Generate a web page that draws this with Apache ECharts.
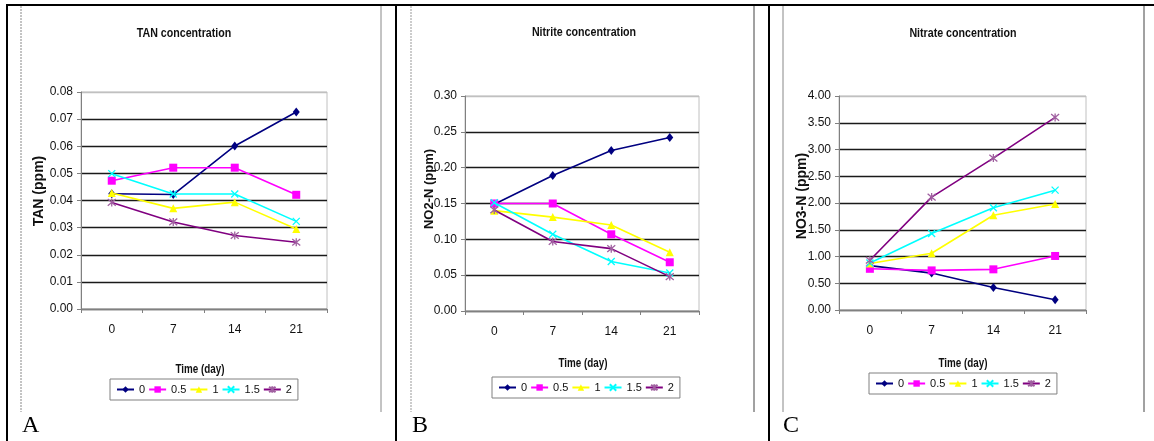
<!DOCTYPE html>
<html><head><meta charset="utf-8">
<script src="https://cdn.jsdelivr.net/npm/echarts@6/dist/echarts.min.js"></script>
<style>html,body{margin:0;padding:0;background:#fff}#c{width:1154px;height:441px}</style>
</head><body><div id="c"></div>
<script>
// ---------- data ----------
const days = ['0', '7', '14', '21'];
const doseNames = ['0', '0.5', '1', '1.5', '2'];

// Panel A: TAN (ppm)
const tan_0   = [0.0425, 0.0422, 0.0601, 0.0726];
const tan_05  = [0.0473, 0.0521, 0.0521, 0.0421];
const tan_1   = [0.0428, 0.0371, 0.0394, 0.0295];
const tan_15  = [0.0499, 0.0424, 0.0424, 0.0323];
const tan_2   = [0.0393, 0.0321, 0.0271, 0.0246];
const tanTicks = [0, 0.01, 0.02, 0.03, 0.04, 0.05, 0.06, 0.07, 0.08];

// Panel B: NO2-N (ppm)
const no2_0   = [0.149, 0.189, 0.224, 0.242];
const no2_05  = [0.150, 0.150, 0.107, 0.068];
const no2_1   = [0.140, 0.131, 0.120, 0.082];
const no2_15  = [0.151, 0.107, 0.069, 0.053];
const no2_2   = [0.141, 0.097, 0.087, 0.048];
const no2Ticks = [0, 0.05, 0.10, 0.15, 0.20, 0.25, 0.30];

// Panel C: NO3-N (ppm)
const no3_0   = [0.83, 0.69, 0.42, 0.19];
const no3_05  = [0.77, 0.74, 0.76, 1.01];
const no3_1   = [0.87, 1.06, 1.77, 1.98];
const no3_15  = [0.88, 1.43, 1.91, 2.24];
const no3_2   = [0.93, 2.11, 2.84, 3.60];
const no3Ticks = [0, 0.5, 1.0, 1.5, 2.0, 2.5, 3.0, 3.5, 4.0];

const titlesText = ['TAN concentration', 'Nitrite concentration', 'Nitrate concentration'];
const yNames = ['TAN (ppm)', 'NO2-N (ppm)', 'NO3-N (ppm)'];
const xName = 'Time (day)';
const panelLetters = ['A', 'B', 'C'];

// ---------- style ----------
const SANS = "'Liberation Sans',Arial,sans-serif";
const SERIF = "'Liberation Serif','Times New Roman',serif";
const colors = ['#000080', '#FF00FF', '#FFFF00', '#00FFFF', '#800080'];
const markerColors = ['#000080', '#FF00FF', '#FFFF00', '#00FFFF', '#A060A0'];
const symbols = [
  'diamond', 'rect', 'triangle',
  'path://M0,0L10,10M10,0L0,10',
  'path://M0,0L10,10M10,0L0,10M5,-1L5,11'
];
const symbolSizes = [[7, 9], 8, 8, 7, 8];

const panels = [
  { data: [tan_0, tan_05, tan_1, tan_15, tan_2], ticks: tanTicks,
    grid: { left: 81, top: 92, width: 246, height: 217 },
    titleX: 184, titleY: 33, yNameX: 39, yNameY: 191, yNameSize: 14,
    xNameX: 200, xNameY: 370, legend: { left: 110, top: 379 }, letterX: 22 },
  { data: [no2_0, no2_05, no2_1, no2_15, no2_2], ticks: no2Ticks,
    grid: { left: 465, top: 96, width: 234, height: 215 },
    titleX: 584, titleY: 32, yNameX: 429, yNameY: 189, yNameSize: 13,
    xNameX: 583, xNameY: 364, legend: { left: 492, top: 377 }, letterX: 412 },
  { data: [no3_0, no3_05, no3_1, no3_15, no3_2], ticks: no3Ticks,
    grid: { left: 839, top: 96, width: 247, height: 214 },
    titleX: 963, titleY: 33, yNameX: 802, yNameY: 196, yNameSize: 14,
    xNameX: 963, xNameY: 364, legend: { left: 869, top: 373 }, letterX: 783 }
];

const option = {
  animation: false,
  backgroundColor: '#fff',
  grid: [], xAxis: [], yAxis: [], series: [], legend: [], graphic: []
};

panels.forEach((p, pi) => {
  option.grid.push(Object.assign({ show: true, borderColor: '#c0c0c0', borderWidth: 1, backgroundColor: '#fff' }, p.grid));
  option.xAxis.push({
    type: 'category', gridIndex: pi, data: days, boundaryGap: true,
    axisLine: { lineStyle: { color: '#808080', width: 1 } },
    axisTick: { show: true, length: 4, lineStyle: { color: '#808080' } },
    axisLabel: { margin: 15, color: '#111', fontFamily: SANS, fontSize: 12 },
    splitLine: { show: false }
  });
  const t = p.ticks;
  const step = t[1] - t[0];
  const splitColors = t.map((v, i) => i === t.length - 1 ? '#c0c0c0' : '#1a1a1a');
  option.yAxis.push({
    type: 'value', gridIndex: pi, min: t[0], max: t[t.length - 1], interval: step,
    axisLine: { show: true, lineStyle: { color: '#808080', width: 1 } },
    axisTick: { show: true, length: 4, lineStyle: { color: '#808080' } },
    axisLabel: { margin: 8, color: '#111', fontFamily: SANS, fontSize: 12,
      formatter: v => v.toFixed(2) },
    splitLine: { show: true, lineStyle: { color: splitColors, width: 1.4 } }
  });
  p.data.forEach((vals, si) => {
    option.series.push({
      name: doseNames[si], type: 'line', xAxisIndex: pi, yAxisIndex: pi,
      data: vals, symbol: symbols[si], symbolSize: symbolSizes[si],
      lineStyle: { color: colors[si], width: 1.6 },
      itemStyle: { color: markerColors[si], borderColor: markerColors[si], borderWidth: si >= 3 ? 1.3 : 0 },
      z: 3 + si
    });
  });
  option.legend.push(Object.assign({
    data: doseNames, orient: 'horizontal', itemWidth: 17, itemHeight: 8, itemGap: 3,
    padding: [5, 6, 5, 6], borderColor: '#808080', borderWidth: 1, backgroundColor: '#fff',
    selectedMode: false,
    textStyle: { fontFamily: SANS, fontSize: 11, color: '#111' }
  }, p.legend));
  // titles and axis names
  option.graphic.push({
    type: 'text', x: p.titleX, y: p.titleY, scaleX: 0.82,
    style: { text: titlesText[pi], fill: '#111', font: 'bold 13px ' + SANS, textAlign: 'center', textVerticalAlign: 'middle' }
  });
  option.graphic.push({
    type: 'text', x: p.yNameX, y: p.yNameY, rotation: Math.PI / 2,
    style: { text: yNames[pi], fill: '#111', font: 'bold ' + p.yNameSize + 'px ' + SANS, textAlign: 'center', textVerticalAlign: 'middle' }
  });
  option.graphic.push({
    type: 'text', x: p.xNameX, y: p.xNameY, scaleX: 0.82,
    style: { text: xName, fill: '#111', font: 'bold 12px ' + SANS, textAlign: 'center', textVerticalAlign: 'middle' }
  });
  option.graphic.push({
    type: 'text', x: p.letterX, y: 426,
    style: { text: panelLetters[pi], fill: '#000', font: '24px ' + SERIF, textAlign: 'left', textVerticalAlign: 'middle' }
  });
});

// table frame and chart picture edges
const lines = [
  { x1: 6, y1: 5, x2: 1154, y2: 5, c: '#000', w: 2 },
  { x1: 7, y1: 4, x2: 7, y2: 441, c: '#000', w: 2 },
  { x1: 396, y1: 4, x2: 396, y2: 441, c: '#000', w: 2 },
  { x1: 769, y1: 4, x2: 769, y2: 441, c: '#000', w: 2 },
  { x1: 21, y1: 6, x2: 21, y2: 412, c: '#888', w: 1, d: [2, 1] },
  { x1: 381, y1: 6, x2: 381, y2: 412, c: '#888', w: 1 },
  { x1: 411, y1: 6, x2: 411, y2: 412, c: '#999', w: 1, d: [2, 1] },
  { x1: 754, y1: 6, x2: 754, y2: 412, c: '#444', w: 1 },
  { x1: 783, y1: 6, x2: 783, y2: 412, c: '#888', w: 1 },
  { x1: 1144, y1: 6, x2: 1144, y2: 412, c: '#444', w: 1 }
];
lines.forEach(l => option.graphic.push({
  type: 'line', silent: true, z: 100,
  shape: { x1: l.x1, y1: l.y1, x2: l.x2, y2: l.y2 },
  style: { stroke: l.c, lineWidth: l.w, lineDash: l.d || null }
}));

const chart = echarts.init(document.getElementById('c'), null, { renderer: 'canvas' });
chart.setOption(option);
</script>
</body></html>
